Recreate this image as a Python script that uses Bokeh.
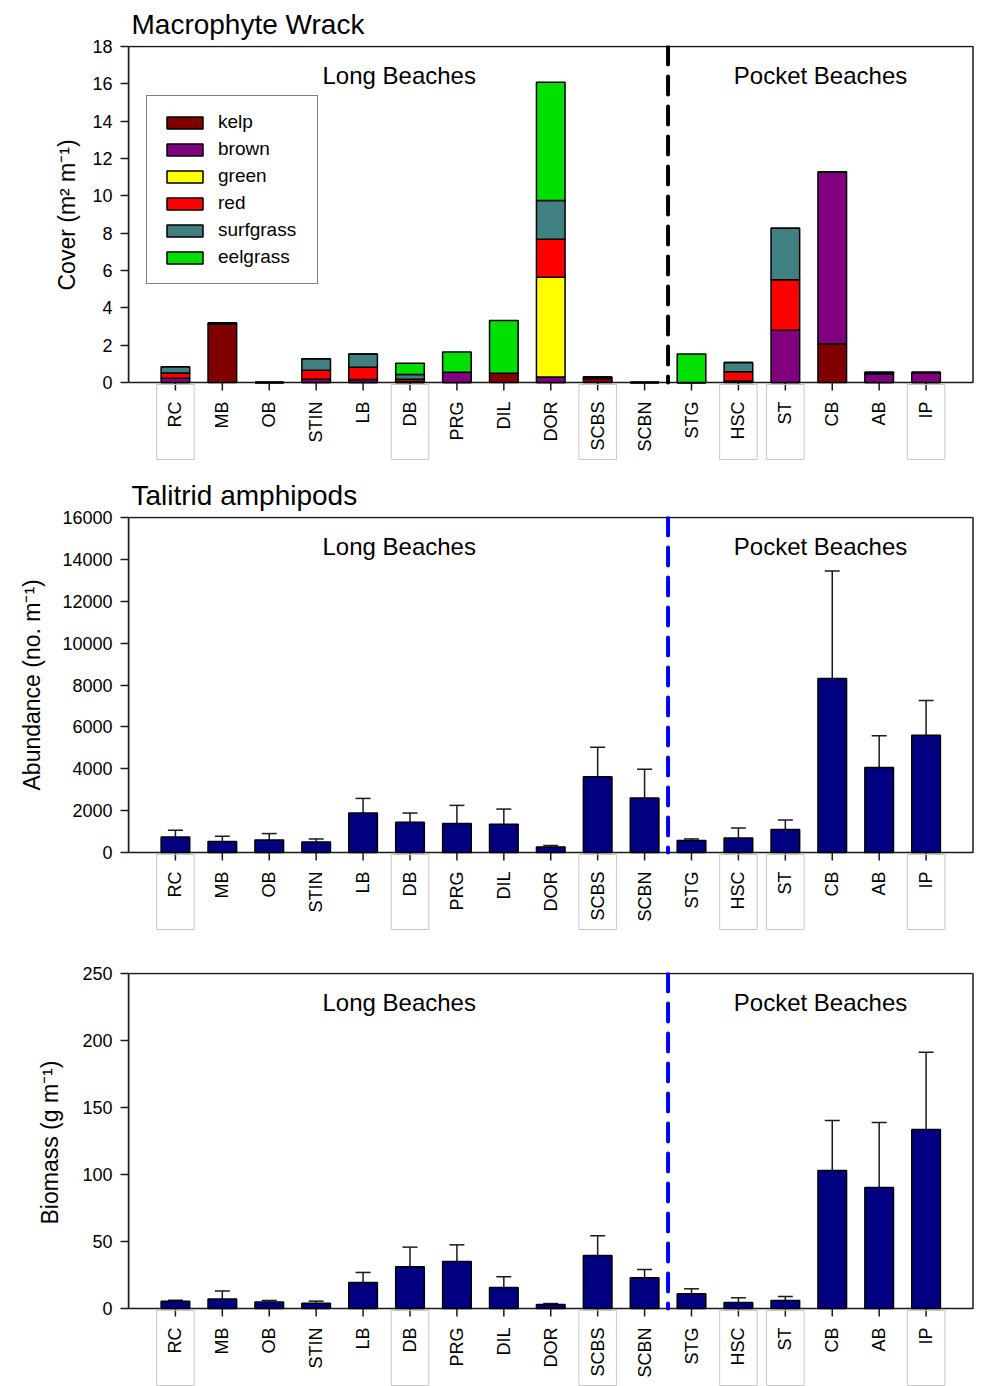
import numpy as np
from bokeh.plotting import figure
from bokeh.layouts import column
from bokeh.models import (Range1d, FixedTicker, ColumnDataSource, Whisker, TeeHead,
                          Legend, LegendItem, Title)
from bokeh.core.properties import value
from bokeh.embed import file_html
from bokeh.resources import INLINE

# ---- data -----------------------------------------------------------------
sites = ["RC", "MB", "OB", "STIN", "LB", "DB", "PRG", "DIL", "DOR", "SCBS", "SCBN",
         "STG", "HSC", "ST", "CB", "AB", "IP"]
boxed_sites = ["RC", "DB", "SCBS", "HSC", "ST", "IP"]
region_labels = ["Long Beaches", "Pocket Beaches"]

# macrophyte wrack cover (m2 m-1) by wrack type
wrack_types = ["kelp", "brown", "green", "red", "surfgrass", "eelgrass"]
kelp      = [0.00, 3.12, 0.00, 0.00, 0.00, 0.00, 0.00, 0.50, 0.00, 0.22, 0.00, 0.00, 0.08, 0.00, 2.07, 0.00, 0.00]
brown     = [0.23, 0.07, 0.00, 0.18, 0.16, 0.05, 0.55, 0.00, 0.30, 0.08, 0.00, 0.00, 0.00, 2.80, 9.21, 0.47, 0.53]
green     = [0.00, 0.00, 0.00, 0.00, 0.00, 0.00, 0.00, 0.00, 5.34, 0.00, 0.00, 0.00, 0.00, 0.00, 0.00, 0.00, 0.00]
red       = [0.28, 0.00, 0.00, 0.48, 0.66, 0.12, 0.00, 0.00, 2.04, 0.00, 0.00, 0.00, 0.49, 2.70, 0.00, 0.00, 0.00]
surfgrass = [0.33, 0.00, 0.00, 0.61, 0.71, 0.26, 0.00, 0.00, 2.07, 0.00, 0.00, 0.00, 0.50, 2.77, 0.00, 0.08, 0.00]
eelgrass  = [0.00, 0.00, 0.00, 0.00, 0.00, 0.60, 1.09, 2.82, 6.34, 0.00, 0.00, 1.53, 0.00, 0.00, 0.00, 0.00, 0.00]
wrack_colors = ["#800000", "#800080", "#FFFF00", "#FF0000", "#408080", "#00E000"]

# talitrid amphipod abundance (no. m-1), mean and SE
abundance    = [742, 523, 600, 504, 1884, 1442, 1380, 1346, 266, 3616, 2598, 571, 695, 1094, 8306, 4058, 5595]
abundance_se = [319, 253, 304, 143, 699, 442, 870, 728, 67, 1408, 1379, 76, 475, 457, 5138, 1522, 1665]

# talitrid amphipod biomass (g m-1), mean and SE
biomass    = [5.5, 7.0, 4.8, 4.0, 19.4, 31.1, 35.1, 15.7, 3.0, 39.6, 22.9, 11.0, 4.5, 6.0, 103.0, 90.3, 133.6]
biomass_se = [0.7, 6.0, 1.2, 1.5, 7.5, 14.7, 12.4, 8.0, 0.7, 14.7, 6.2, 3.7, 3.5, 3.0, 37.3, 48.5, 57.7]

# ---- layout helpers ---------------------------------------------------------
FONT = "Liberation Sans"
W = 981
LEFT, RIGHT = 128, 7
X = list(range(len(sites)))
BAR_W = 0.61
DIVIDER_X = 10.5          # between SCBN and STG
REGION_X = [4.77, 13.75]


def make_panel(height, top_px, span_px, below_px, ymax, ystep, ylabel,
               ylabel_offset, ylabel_standoff, divider_color, title=None):
    px = ymax / span_px   # data units per screen pixel
    p = figure(width=W, height=height, output_backend="svg", toolbar_location=None,
               x_range=Range1d(-1, 17 + 1.5 / 47),
               y_range=Range1d(-below_px * px, ymax + 1 * px),
               min_border_left=LEFT, min_border_right=RIGHT,
               min_border_top=top_px, min_border_bottom=0,
               x_axis_location=None, outline_line_color=None,
               background_fill_color="white", border_fill_color="white")
    p.xgrid.visible = False
    p.ygrid.visible = False

    ax = p.yaxis[0]
    ax.ticker = FixedTicker(ticks=[float(t) for t in np.arange(0, ymax + ystep / 2, ystep)])
    ax.bounds = (0, ymax)
    ax.major_tick_out = 8
    ax.major_tick_in = 0
    ax.minor_tick_line_color = None
    ax.axis_line_width = 1.5
    ax.axis_line_color = "#1a1a1a"
    ax.major_tick_line_width = 1.5
    ax.major_tick_line_color = "#1a1a1a"
    ax.major_label_text_font = FONT
    ax.major_label_text_font_size = "18px"
    ax.major_label_text_color = "black"
    ax.major_label_standoff = 8

    # axis title on the left, set beside the 0..ymax part of the axis
    p.add_layout(Title(text=ylabel, align="left", offset=ylabel_offset,
                       standoff=ylabel_standoff, text_font=FONT, text_font_size="23px",
                       text_font_style="normal", text_color="black"), "left")

    if title:
        p.add_layout(Title(text=title, align="left", offset=3, text_font=FONT,
                           text_font_size="28px", text_font_style="normal",
                           text_color="black", standoff=12), "above")

    # plot box (top, right and baseline)
    p.quad(left=[-1], right=[17], bottom=[0], top=[ymax], fill_color=None,
           line_color="#1a1a1a", line_width=1.5)

    # category ticks below the baseline
    p.segment(x0=X, y0=[0] * len(X), x1=X, y1=[-8 * px] * len(X),
              line_color="#1a1a1a", line_width=1.5)

    # light boxes around selected site names
    bx = [sites.index(s) for s in boxed_sites]
    p.quad(left=[b - 0.4 for b in bx], right=[b + 0.4 for b in bx],
           top=[-2 * px] * len(bx), bottom=[-77 * px] * len(bx),
           fill_color=None, line_color="#c8c8c8", line_width=1)

    # site names, read bottom to top
    p.text(x=X, y=[-19 * px] * len(X), text=sites, angle=np.pi / 2,
           text_align="right", text_baseline="middle",
           text_font=value(FONT), text_font_size="18px", text_color="black")

    # long vs pocket beach divider
    p.segment(x0=[DIVIDER_X], y0=[ymax], x1=[DIVIDER_X], y1=[0],
              line_color=divider_color, line_width=4, line_dash="18 12",
              line_cap="round")

    p.text(x=REGION_X, y=[ymax - 29 * px] * 2, text=region_labels,
           text_align="center", text_baseline="middle",
           text_font=value(FONT), text_font_size="24px", text_color="black")
    return p


def add_mean_se(p, mean, se):
    src = ColumnDataSource(dict(x=X, mean=mean, upper=[m + e for m, e in zip(mean, se)]))
    p.add_layout(Whisker(base="x", lower="mean", upper="upper", source=src,
                         dimension="height", line_color="#1a1a1a", line_width=1.5,
                         upper_head=TeeHead(size=15, line_width=1.5, line_color="#1a1a1a"),
                         lower_head=None))
    p.vbar(x="x", top="mean", width=BAR_W, source=src, fill_color="#000080",
           line_color="black", line_width=1.5)


# ---- macrophyte wrack ---------------------------------------------------------
p1 = make_panel(470, 45, 336, 88, 18, 2, "Cover (m\u00b2 m\u207b\u00b9)", 180, 20, "black",
                title="Macrophyte Wrack")
wrack_src = ColumnDataSource(dict(x=X, kelp=kelp, brown=brown, green=green, red=red,
                                  surfgrass=surfgrass, eelgrass=eelgrass))
stack = p1.vbar_stack(wrack_types, x="x", width=BAR_W, source=wrack_src,
                      fill_color=wrack_colors, line_color="black", line_width=1.5)
legend = Legend(items=[LegendItem(label=n, renderers=[r]) for n, r in zip(wrack_types, stack)],
                location=(18, 186), glyph_width=45, glyph_height=15, label_standoff=11,
                label_width=84, spacing=5, padding=15, margin=0, border_line_color="black",
                border_line_width=1.2, background_fill_color="white", background_fill_alpha=1,
                label_text_font=FONT, label_text_font_size="19px", label_text_color="black")
p1.add_layout(legend)

# ---- talitrid abundance -------------------------------------------------------
p2 = make_panel(470, 46, 335, 88, 16000, 2000, "Abundance (no. m\u207b\u00b9)", 150, 30, "#0000FF",
                title="Talitrid amphipods")
add_mean_se(p2, abundance, abundance_se)

# ---- talitrid biomass ---------------------------------------------------------
p3 = make_panel(446, 32, 335, 78, 250, 50, "Biomass (g m\u207b\u00b9)", 162, 34, "#0000FF")
add_mean_se(p3, biomass, biomass_se)

layout = column(p1, p2, p3, spacing=0)
open("out.html", "w").write(file_html(layout, INLINE))
